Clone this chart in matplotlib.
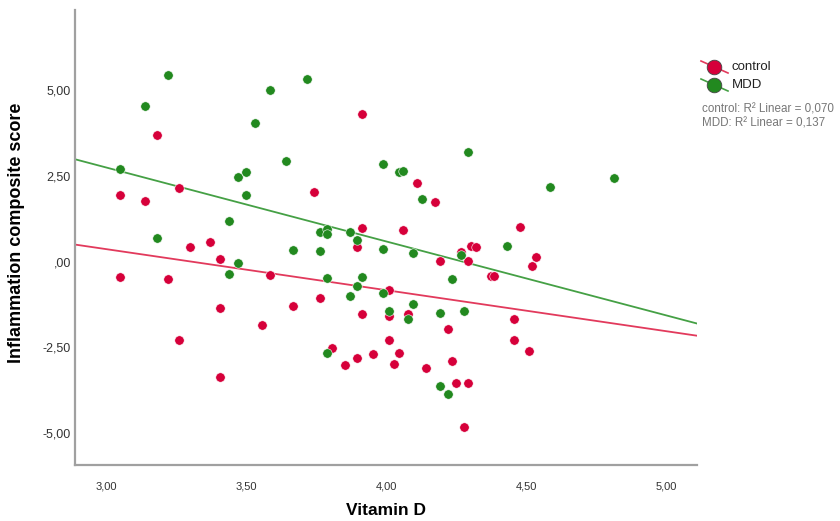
import matplotlib
matplotlib.use('Agg')
import matplotlib.pyplot as plt
from matplotlib.lines import Line2D
import numpy as np

plt.rcParams['font.family'] = ['Liberation Sans', 'DejaVu Sans']

# vitamin D / inflammation score
control_x = [3.182, 3.050, 3.139, 3.260, 3.742, 3.916, 4.112, 4.176, 3.916, 4.062,
             4.479, 4.537, 4.522, 3.299, 3.371, 3.406, 3.050, 3.221, 3.585, 3.406,
             3.667, 3.763, 3.556, 3.260, 3.406, 3.895, 4.266, 4.305, 4.323, 4.191,
             4.294, 4.373, 4.387, 4.009, 4.009, 3.916, 4.080, 4.223, 4.458, 4.458,
             4.512, 4.009, 3.809, 3.852, 3.895, 3.955, 4.045, 4.027, 4.144, 4.237,
             4.251, 4.294, 4.280]
control_y = [3.69, 1.94, 1.76, 2.14, 2.03, 4.30, 2.29, 1.73, 0.98, 0.92,
             1.01, 0.13, -0.13, 0.42, 0.57, 0.07, -0.45, -0.51, -0.39, -1.36,
             -1.30, -1.06, -1.84, -2.29, -3.37, 0.42, 0.28, 0.45, 0.42, 0.01,
             0.01, -0.42, -0.42, -0.83, -1.59, -1.53, -1.53, -1.97, -1.68, -2.29,
             -2.61, -2.29, -2.52, -3.02, -2.81, -2.70, -2.67, -2.99, -3.11, -2.90,
             -3.54, -3.54, -4.82]

mdd_x = [3.221, 3.139, 3.050, 3.439, 3.471, 3.499, 3.499, 3.531, 3.585, 3.717,
         3.642, 4.294, 3.991, 4.045, 4.062, 4.130, 4.586, 4.815, 4.433, 3.182,
         3.471, 3.439, 3.667, 3.763, 3.763, 3.788, 3.788, 3.873, 3.895, 3.991,
         4.098, 4.266, 3.788, 3.916, 3.895, 4.237, 3.873, 3.991, 4.009, 4.098,
         4.080, 4.191, 4.280, 3.788, 4.191, 4.223]
mdd_y = [5.44, 4.53, 2.70, 1.18, 2.46, 2.61, 1.94, 4.04, 5.00, 5.32,
         2.93, 3.19, 2.84, 2.61, 2.64, 1.82, 2.17, 2.43, 0.45, 0.69,
         -0.04, -0.36, 0.34, 0.86, 0.31, 0.95, 0.80, 0.86, 0.63, 0.36,
         0.25, 0.19, -0.48, -0.45, -0.71, -0.51, -1.01, -0.92, -1.44, -1.24,
         -1.68, -1.50, -1.44, -2.67, -3.63, -3.86]

groups = ['control', 'MDD']
r2_text = ['0,070', '0,137']
x_ticks = [3.0, 3.5, 4.0, 4.5, 5.0]
y_ticks = [-5.0, -2.5, 0.0, 2.5, 5.0]

red = '#d6003a'
green = '#22891f'
red_line = '#e23a5c'
green_line = '#45a045'

fig = plt.figure(figsize=(8.4, 5.21), dpi=100)
ax = fig.add_axes([75/840, 1-465/521, 622/840, 455/521])
xlim = (2.89, 5.11)

for xs, ys, c, lc in [(control_x, control_y, red, red_line), (mdd_x, mdd_y, green, green_line)]:
    ax.scatter(xs, ys, s=46, color=c, edgecolors='white', linewidths=0.4, zorder=3)
    k, b = np.polyfit(xs, ys, 1)
    xx = np.array(xlim)
    ax.plot(xx, k*xx + b, color=lc, lw=1.3, zorder=2)

ax.set_xlim(*xlim)
ax.set_ylim(-5.93, 7.33)
ax.set_xticks(x_ticks)
ax.set_xticklabels([f'{t:.2f}'.replace('.', ',') for t in x_ticks])
ax.set_yticks(y_ticks)
ax.set_yticklabels([(f'{t:.2f}'.replace('.', ',') if t != 0 else ',00') for t in y_ticks])
ax.tick_params(length=0, labelcolor='#333333')
ax.tick_params(axis='x', pad=12, labelsize=8)
ax.tick_params(axis='y', pad=3, labelsize=9)
for s in ['top', 'right']:
    ax.spines[s].set_visible(False)
for s in ['left', 'bottom']:
    ax.spines[s].set_color('#a0a0a0')
    ax.spines[s].set_linewidth(1.6)
ax.set_xlabel('Vitamin D', fontsize=12.5, fontweight='bold', labelpad=8)
ax.set_ylabel('Inflammation composite score', fontsize=13, fontweight='bold')
ax.yaxis.set_label_coords(-50/622, 0.51)

# legend drawn by hand at the right
for i, (g, c, lc) in enumerate(zip(groups, [red, green], [red_line, green_line])):
    yc = 1 - (67 + 18*i)/521
    fig.add_artist(Line2D([701/840, 728/840], [yc + 6/521, yc - 6/521], color=lc, lw=1.2,
                          transform=fig.transFigure))
    fig.add_artist(Line2D([714/840], [yc], marker='o', markersize=10.5, color=c,
                          markeredgecolor='#444444', markeredgewidth=0.6,
                          transform=fig.transFigure))
    fig.text(732/840, yc, g, fontsize=9.5, va='center', ha='left', color='#222222')
    fig.text(702/840, 1 - (109 + 15*i)/521, f'{g}: R\u00b2 Linear = {r2_text[i]}',
             fontsize=8.4, va='center', ha='left', color='#777777')

fig.savefig('out.png', dpi=100)
